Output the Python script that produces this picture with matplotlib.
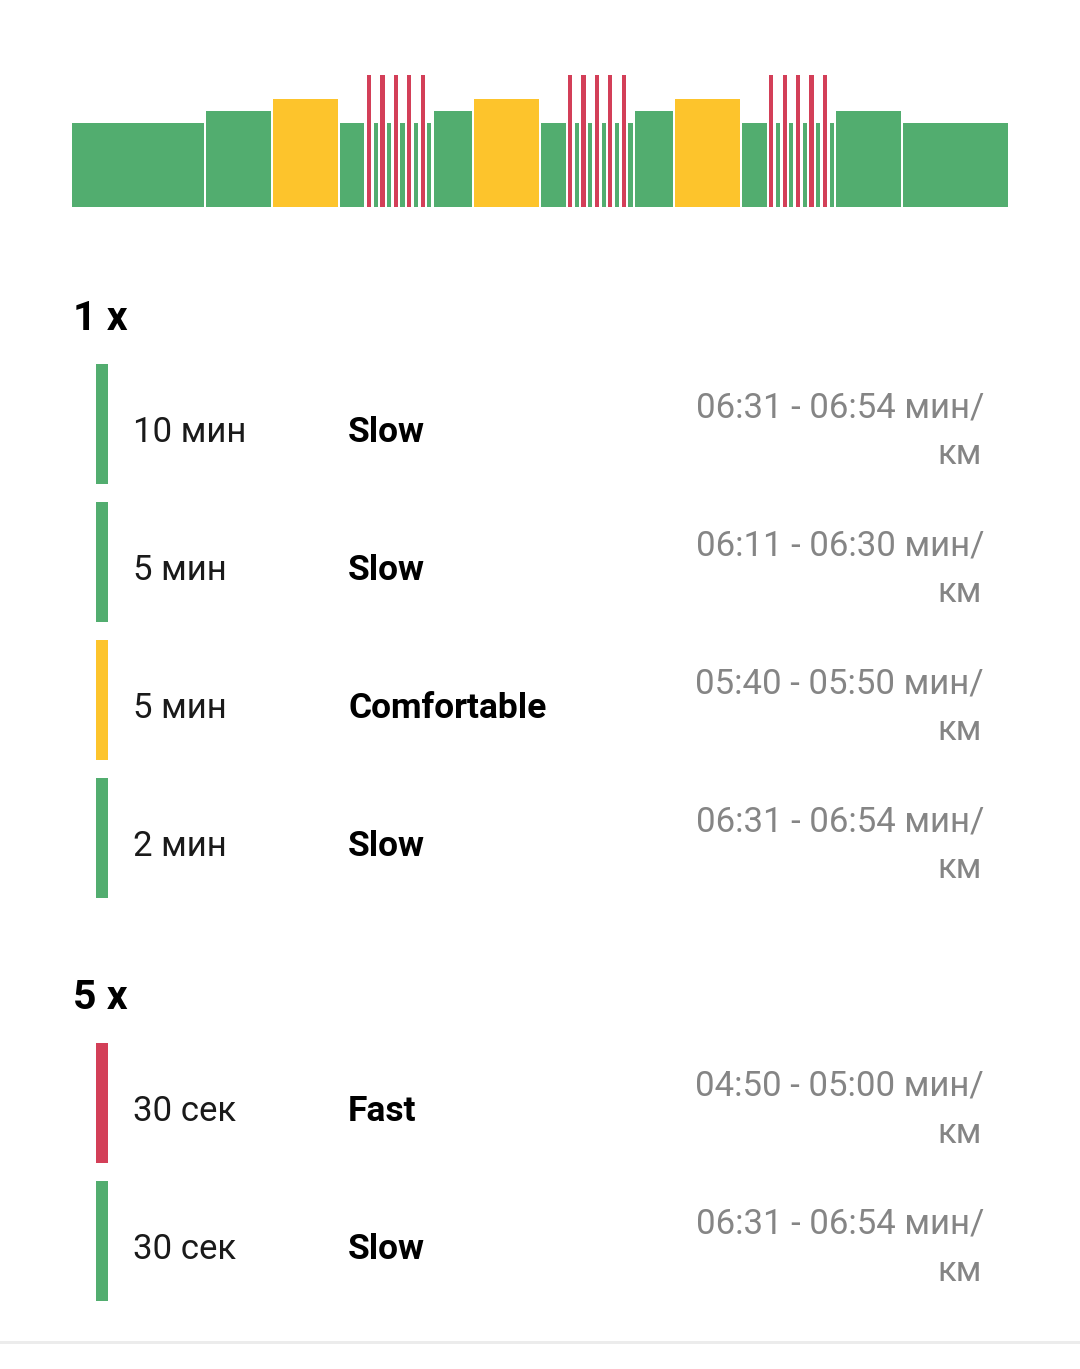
from __future__ import annotations

import matplotlib

matplotlib.use("Agg")
import matplotlib.pyplot as plt
from matplotlib.patches import Rectangle


W, H = 1080, 1369

GREEN = "#52ad6f"
YELLOW = "#fdc42c"
RED = "#d33f58"
GREY_TEXT = "#858585"

ZONE_COLOR = {"slow": GREEN, "steady": GREEN, "comfortable": YELLOW, "fast": RED}
# relative bar height per pace zone
ZONE_LEVEL = {"slow": 3.5, "steady": 4.0, "comfortable": 4.5, "fast": 5.5}

interval_minutes = [0.5] * 10
interval_zones = ["fast", "slow"] * 5

seg_minutes = (
    [10, 5, 5, 2] + interval_minutes
    + [3, 5, 2] + interval_minutes
    + [3, 5, 2] + interval_minutes
    + [5, 8]
)
seg_zones = (
    ["slow", "steady", "comfortable", "slow"] + interval_zones
    + ["steady", "comfortable", "slow"] + interval_zones
    + ["steady", "comfortable", "slow"] + interval_zones
    + ["steady", "slow"]
)

block_titles = ["1 x", "5 x"]
step_durations = [["10 мин", "5 мин", "5 мин", "2 мин"], ["30 сек", "30 сек"]]
step_names = [["Slow", "Slow", "Comfortable", "Slow"], ["Fast", "Slow"]]
step_paces = [
    ["06:31 - 06:54", "06:11 - 06:30", "05:40 - 05:50", "06:31 - 06:54"],
    ["04:50 - 05:00", "06:31 - 06:54"],
]
step_colors = [[GREEN, GREEN, YELLOW, GREEN], [RED, GREEN]]

plt.rcParams["font.family"] = ["Roboto", "DejaVu Sans"]


def fx(x: float) -> float:
    return x / W


def fy(y: float) -> float:
    return 1 - y / H


def main() -> None:
    fig = plt.figure(figsize=(W / 100, H / 100), dpi=100)
    fig.patch.set_facecolor("white")

    # workout profile
    ax = fig.add_axes([fx(72), fy(207), fx(1008) - fx(72), 132 / H])
    gap = 0.19
    start = 0.0
    starts = []
    for m in seg_minutes:
        starts.append(start)
        start += m
    ax.bar(
        starts,
        [ZONE_LEVEL[z] for z in seg_zones],
        width=[m - gap for m in seg_minutes],
        align="edge",
        color=[ZONE_COLOR[z] for z in seg_zones],
        linewidth=0,
    )
    ax.set_xlim(0, start - gap)
    ax.set_ylim(0, 5.5)
    ax.axis("off")

    # step list
    header_y = [330, 1009]
    row_tops = [[364, 502, 640, 778], [1043, 1181]]
    for b, title in enumerate(block_titles):
        fig.text(fx(73), fy(header_y[b]), title, fontsize=29.5, fontweight="bold",
                 color="black", va="baseline", ha="left")
        for i, top in enumerate(row_tops[b]):
            fig.patches.append(Rectangle((fx(96), fy(top + 120)), 12 / W, 120 / H,
                                         transform=fig.transFigure,
                                         color=step_colors[b][i], linewidth=0))
            fig.text(fx(133), fy(top + 78), step_durations[b][i], fontsize=25,
                     color="#1a1a1a", va="baseline", ha="left")
            fig.text(fx(348), fy(top + 78), step_names[b][i], fontsize=25.5,
                     fontweight="bold", color="black", va="baseline", ha="left")
            fig.text(fx(984), fy(top + 53), step_paces[b][i] + " мин/", fontsize=25,
                     color=GREY_TEXT, va="baseline", ha="right")
            fig.text(fx(982), fy(top + 100), "км", fontsize=25,
                     color=GREY_TEXT, va="baseline", ha="right")

    fig.patches.append(Rectangle((0, fy(1344)), 1, 3 / H, transform=fig.transFigure,
                                 color="#ececec", linewidth=0))

    fig.savefig("out.png", dpi=100, facecolor="white")
    plt.close(fig)


if __name__ == "__main__":
    main()
